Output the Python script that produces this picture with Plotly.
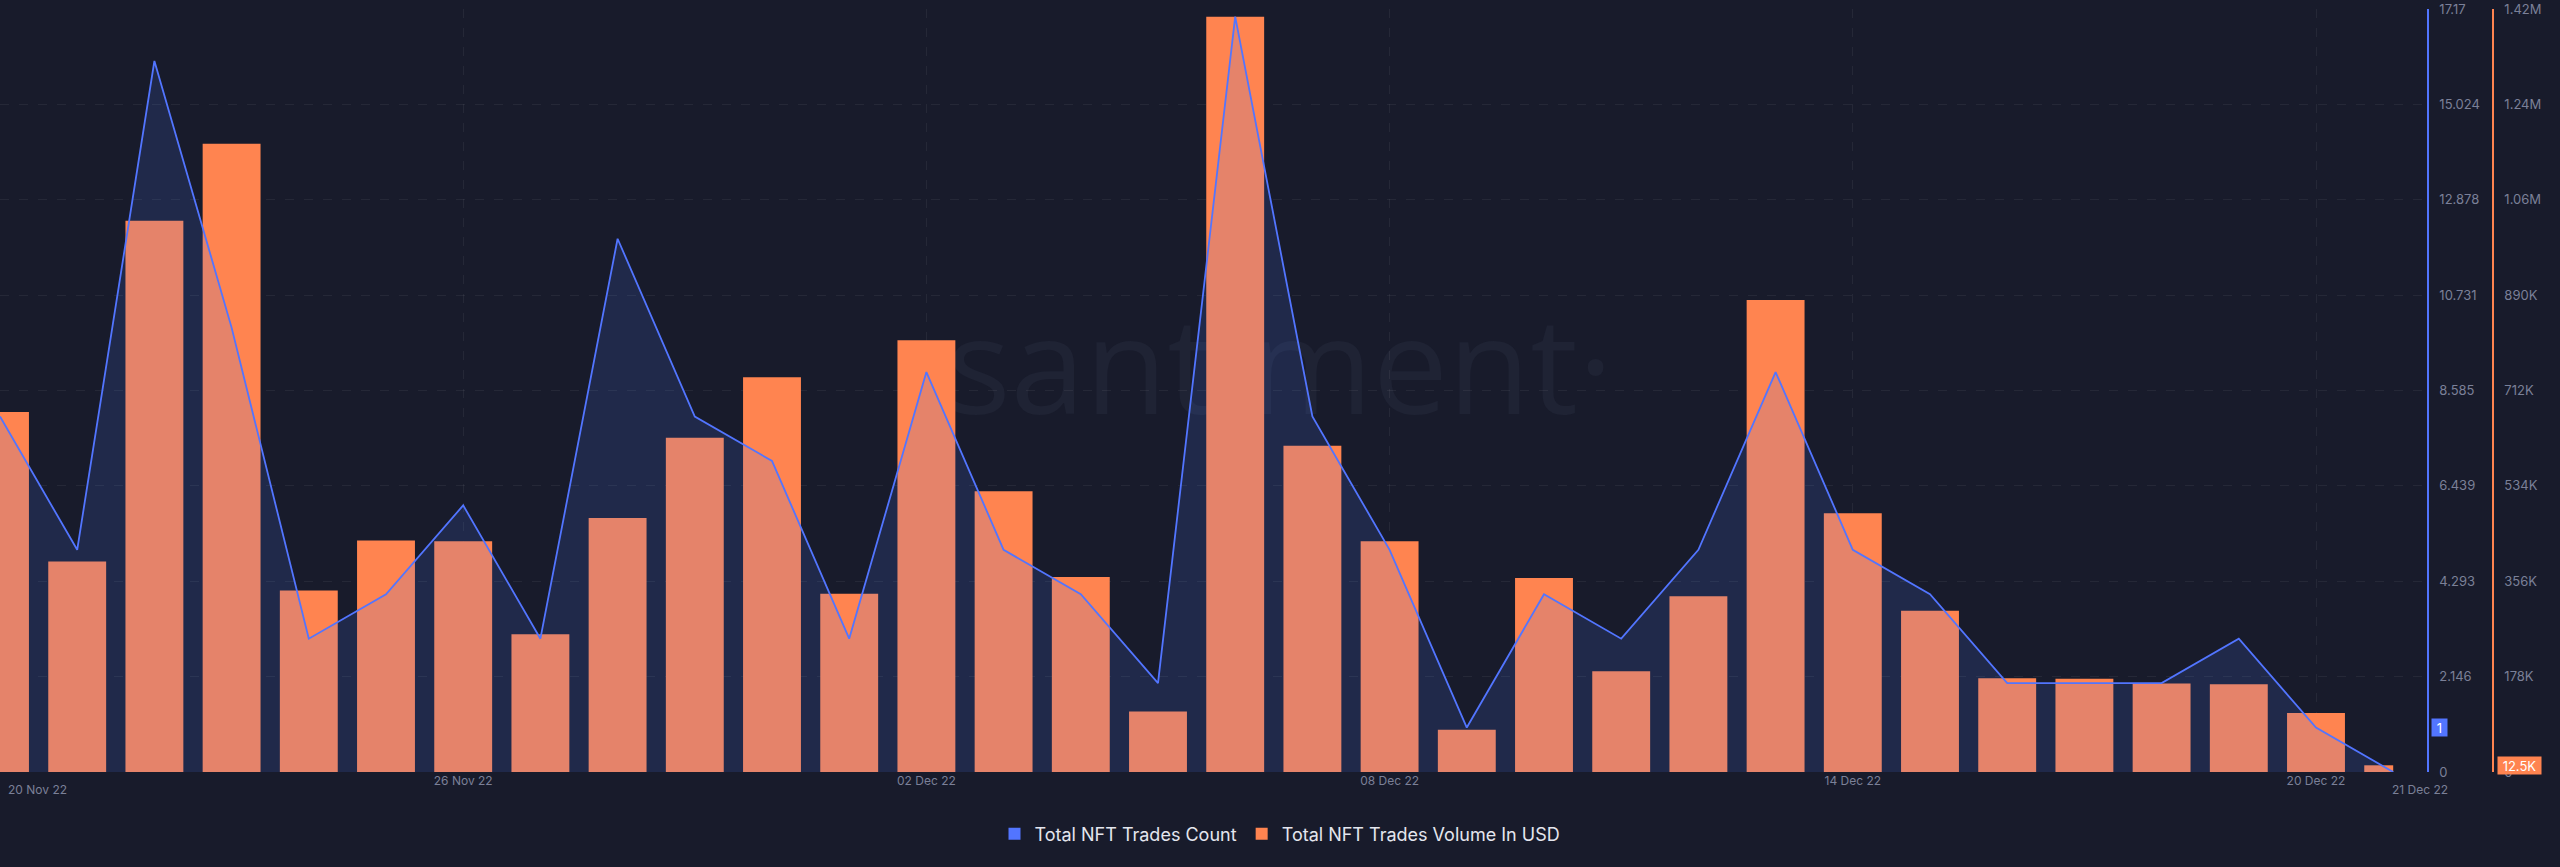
import pandas as pd
import plotly.graph_objects as go

# ---------------- data ----------------
dates = pd.date_range("2022-11-20", "2022-12-21", freq="D")

trade_count = [8, 5, 16, 10, 3, 4, 6, 3, 12, 8, 7,
               3, 9, 5, 4, 2, 17, 8, 5, 1, 4, 3, 5, 9, 5, 4, 2, 2, 2, 3, 1, 0]

trade_volume_usd = [672e3, 393e3, 1029e3, 1173e3, 339e3, 432e3, 431e3, 257e3, 474e3, 624e3, 737e3,
                    333e3, 806e3, 524e3, 364e3, 113e3, 1410e3, 609e3, 431e3, 79e3, 362e3, 188e3,
                    328e3, 881e3, 483e3, 301e3, 175e3, 174e3, 165e3, 164e3, 110e3, 12.5e3]

count_tick_text = ["0", "2.146", "4.293", "6.439", "8.585", "10.731", "12.878", "15.024", "17.17"]
volume_tick_text = ["0", "178K", "356K", "534K", "712K", "890K", "1.06M", "1.24M", "1.42M"]

x_tick_dates = ["2022-11-20", "2022-11-26", "2022-12-02", "2022-12-08", "2022-12-14", "2022-12-20"]
x_tick_text = ["", "26 Nov 22", "02 Dec 22", "08 Dec 22", "14 Dec 22", "20 Dec 22"]
first_label = "20 Nov 22"
last_label = "21 Dec 22"
count_badge = "1"
volume_badge = "12.5K"

# ---------------- style ----------------
W, H = 2560, 867
BG = "#181b2b"
GRID = "rgba(255,255,255,0.06)"
TICK = "#7b8098"
BLUE = "#5275ff"
ORANGE = "#ff8450"
WM = "#1f2334"
FONT = "Inter"

PLOT_TOP, PLOT_BOTTOM = 9, 772
PLOT_RIGHT = 2427
VOL_AXIS_X = 2493

CNT_MAX = 17.17
VOL_MAX = 1424500

DAY = 86400000
widths = [0.75 * DAY] * (len(dates) - 1) + [0.375 * DAY]
offsets = [-0.375 * DAY] * len(dates)

x_start = dates[0]
x_end = dates[0] + pd.Timedelta(days=PLOT_RIGHT / 77.2)

fig = go.Figure()
fig.add_trace(go.Bar(
    x=dates, y=trade_volume_usd, width=widths, offset=offsets,
    marker=dict(color=ORANGE, line=dict(width=0)),
    yaxis="y", showlegend=False, hoverinfo="skip"))
fig.add_trace(go.Scatter(
    x=dates, y=trade_count, mode="lines",
    line=dict(color=BLUE, width=1.8),
    fill="tozeroy", fillcolor="rgba(78,125,255,0.15)",
    yaxis="y2", showlegend=False, hoverinfo="skip"))
# legend entries
fig.add_trace(go.Scatter(x=[None], y=[None], mode="markers", yaxis="y2",
                         marker=dict(symbol="square", size=12, color=BLUE),
                         name="Total NFT Trades Count"))
fig.add_trace(go.Scatter(x=[None], y=[None], mode="markers", yaxis="y2",
                         marker=dict(symbol="square", size=12, color=ORANGE),
                         name="Total NFT Trades Volume In USD"))

plot_h = PLOT_BOTTOM - PLOT_TOP

fig.update_layout(
    width=W, height=H,
    margin=dict(l=0, r=0, t=PLOT_TOP, b=H - PLOT_BOTTOM, pad=0),
    paper_bgcolor=BG, plot_bgcolor=BG,
    font=dict(family=FONT, color=TICK, size=12),
    xaxis=dict(
        type="date", domain=[0, PLOT_RIGHT / W], range=[x_start, x_end],
        tickvals=x_tick_dates, ticktext=x_tick_text,
        showgrid=True, gridcolor=GRID, griddash="9px,10px", gridwidth=1,
        showline=False, zeroline=False, ticks="",
        tickfont=dict(size=12, color=TICK, family=FONT),
    ),
    yaxis=dict(
        range=[0, VOL_MAX], tickvals=[VOL_MAX * k / 8 for k in range(9)], ticktext=volume_tick_text,
        side="right", anchor="free", position=VOL_AXIS_X / W,
        showline=True, linecolor=ORANGE, linewidth=1.5,
        showgrid=True, gridcolor=GRID, griddash="9px,10px", gridwidth=1,
        zeroline=False, ticks="", ticklabelstandoff=8,
        tickfont=dict(size=13, color=TICK, family=FONT),
    ),
    yaxis2=dict(
        range=[0, CNT_MAX], tickvals=[CNT_MAX * k / 8 for k in range(9)], ticktext=count_tick_text,
        overlaying="y", side="right", anchor="x",
        showline=True, linecolor=BLUE, linewidth=1.5,
        showgrid=False, zeroline=False, ticks="", ticklabelstandoff=8,
        tickfont=dict(size=13, color=TICK, family=FONT),
    ),
    legend=dict(orientation="h", x=0.5, xanchor="center",
                y=(PLOT_BOTTOM - 834) / plot_h, yanchor="middle",
                font=dict(size=18, color="#e4e6ee", family=FONT),
                bgcolor="rgba(0,0,0,0)", itemwidth=30),
    shapes=[dict(
        type="rect", xref="paper", yref="paper", layer="below",
        x0=0.30, x1=0.70, y0=0.40, y1=0.65,
        line=dict(width=0), fillcolor="rgba(0,0,0,0)",
        label=dict(text="santiment·", textposition="middle center",
                   font=dict(size=134, color=WM, family="Open Sans")),
    )],
    annotations=[
        dict(text=first_label, xref="x", x=dates[0], yref="paper", y=0, yanchor="top",
             xanchor="left", xshift=6, yshift=-8, showarrow=False,
             font=dict(size=12, color=TICK, family=FONT)),
        dict(text=last_label, xref="paper", x=2420 / W, yref="paper", y=0, yanchor="top",
             xanchor="center", yshift=-8, showarrow=False,
             font=dict(size=12, color=TICK, family=FONT)),
        dict(text=count_badge, xref="paper", x=2431 / W, yref="y2", y=1,
             xanchor="left", yanchor="middle", showarrow=False, bgcolor=BLUE,
             width=15, height=17, align="center", borderpad=0,
             font=dict(size=13, color="white", family=FONT)),
        dict(text=volume_badge, xref="paper", x=2497 / W, yref="y", y=trade_volume_usd[-1],
             xanchor="left", yanchor="middle", showarrow=False, bgcolor=ORANGE,
             width=43, height=17, align="center", borderpad=0,
             font=dict(size=13, color="white", family=FONT)),
    ],
)

fig.write_html("out.html")
